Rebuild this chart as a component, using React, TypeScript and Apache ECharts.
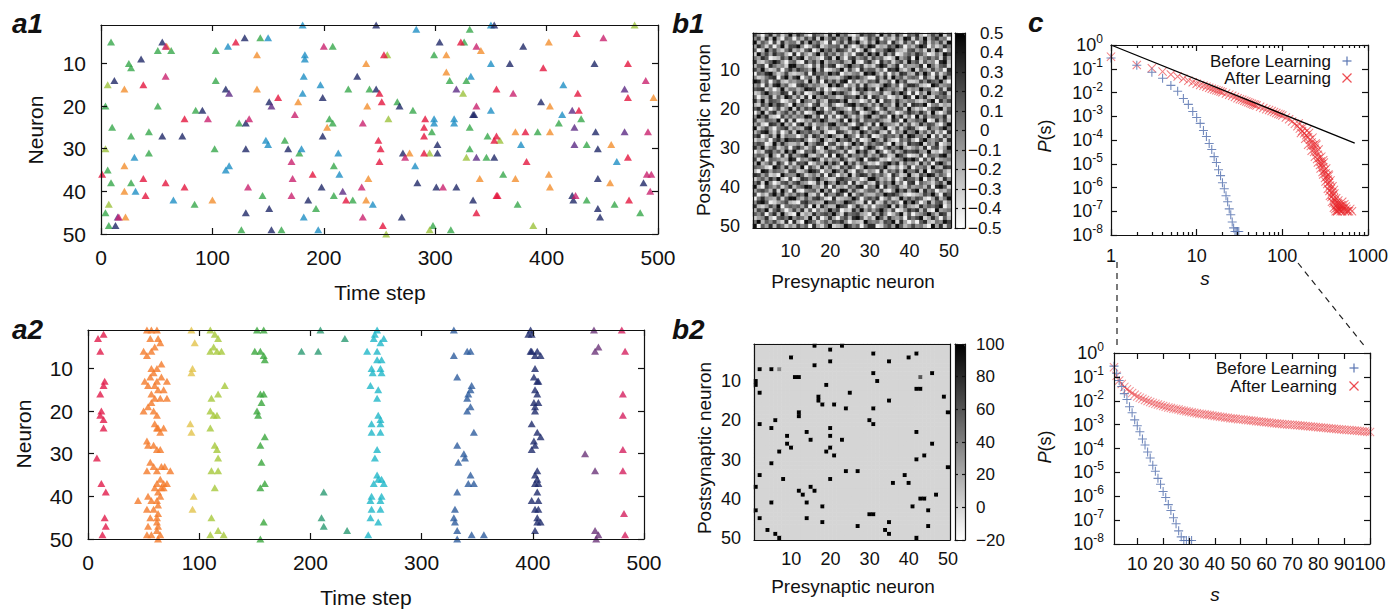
import React, { useEffect, useRef } from 'react';
import * as echarts from 'echarts';

const FONT = '"Liberation Sans", Arial, Helvetica, sans-serif';
const INK = '#111111';

// ---------------- a1: spike raster before learning ([time step, neuron]) ----------------
const a1Red = [[121,5],[38,15],[75,23],[1,36],[38,37],[58,38],[75,39],[40,41],[159,18],[190,36],[220,42],[254,8],[250,17],[252,19],[249,28],[251,30],[250,33],[253,48],[291,23],[290,25],[290,27],[290,31],[323,5],[355,16],[337,45],[353,28],[355,41],[427,3],[397,11],[473,10],[428,17],[473,18],[429,21],[355,27],[381,26],[382,33],[473,32],[356,41],[474,42]];
const a1Magenta = [[58,6],[96,23],[133,23],[58,13],[16,46],[132,39],[200,6],[174,22],[171,33],[172,37],[171,41],[235,24],[234,39],[235,46],[273,32],[307,39],[337,6],[337,20],[451,4],[489,14],[370,17],[491,26],[490,36],[494,36],[493,40],[426,41]];
const a1Purple = [[115,17],[153,20],[217,40],[319,16],[337,32],[15,46],[470,16],[423,21],[425,25],[470,26],[425,29]];
const a1Navy = [[55,5],[129,4],[247,1],[230,13],[304,5],[36,9],[12,14],[112,16],[91,21],[55,27],[73,27],[13,48],[130,24],[130,30],[130,45],[151,19],[151,44],[153,49],[168,30],[186,42],[198,39],[199,18],[199,27],[247,16],[268,20],[270,46],[271,31],[284,38],[302,29],[302,31],[301,39],[319,39],[334,22],[334,42],[353,1],[353,32],[379,6],[367,10],[443,10],[395,19],[335,22],[444,26],[446,30],[446,37],[487,38],[423,41],[424,42],[446,44],[448,46]];
const a1Teal = [[114,6],[150,4],[181,1],[283,2],[350,10],[350,1],[30,32],[31,40],[65,42],[115,34],[112,35],[148,28],[150,29],[180,30],[183,9],[183,8],[182,13],[181,17],[182,46],[195,49],[197,15],[213,31],[214,36],[244,43],[282,34],[299,23],[299,24],[317,23],[317,24],[332,13],[350,21],[415,15],[414,22],[377,29],[463,33]];
const a1Green = [[9,5],[51,7],[63,7],[103,7],[143,4],[208,6],[299,8],[313,14],[326,5],[331,2],[328,14],[25,10],[27,11],[103,14],[4,20],[51,20],[85,21],[10,25],[27,27],[43,26],[43,31],[6,35],[9,38],[27,38],[4,45],[84,43],[7,48],[102,30],[124,24],[126,49],[145,41],[162,49],[165,28],[178,31],[193,44],[205,23],[208,24],[209,34],[209,41],[226,42],[222,16],[241,16],[266,19],[280,21],[297,26],[298,48],[314,49],[331,25],[331,30],[346,32],[347,27],[431,23],[411,24],[392,26],[436,29],[361,36],[374,43],[436,42],[461,43],[484,45]];
const a1YellowGreen = [[6,15],[4,30],[7,43],[325,17],[256,50],[258,23],[295,31],[295,49],[328,32],[479,1],[358,28],[388,48],[257,8]];
const a1Orange = [[59,6],[21,16],[21,34],[21,40],[100,42],[22,46],[140,8],[140,16],[177,19],[203,25],[238,10],[238,42],[239,20],[240,37],[277,31],[310,8],[310,12],[341,7],[340,37],[402,5],[496,18],[403,20],[372,26],[403,26],[458,29],[372,37],[402,36],[457,38],[403,39]];

// ---------------- a2: spike raster after learning ----------------
const a2Red = [[9,3],[14,2],[11,6],[15,13],[14,14],[11,16],[12,20],[11,21],[14,22],[14,24],[8,31],[12,37],[16,39],[15,45],[16,47],[13,49]];
const a2Orange = [[53,1],[62,1],[57,1],[56,3],[63,3],[50,6],[57,6],[60,5],[65,4],[53,7],[66,9],[57,10],[62,10],[59,11],[56,12],[51,13],[62,13],[66,12],[71,13],[54,14],[60,14],[68,15],[63,15],[57,16],[65,17],[60,17],[71,17],[50,20],[54,19],[59,20],[62,21],[57,18],[60,23],[63,24],[68,24],[65,25],[62,24],[53,27],[54,28],[59,28],[62,29],[65,29],[56,32],[59,33],[62,34],[66,33],[53,34],[69,33],[74,34],[65,36],[68,37],[62,37],[71,37],[66,38],[60,38],[63,39],[68,38],[45,41],[54,40],[62,41],[65,40],[57,41],[63,42],[53,43],[59,43],[63,44],[56,45],[62,45],[54,47],[62,46],[63,47],[62,48],[65,49],[53,49],[57,49],[63,50]];
const a2Yellow = [[93,1],[96,4],[94,10],[93,11],[92,23],[93,25],[95,40],[94,43]];
const a2LightGreen = [[110,1],[114,2],[117,3],[110,6],[113,5],[116,6],[120,6],[123,14],[111,17],[117,16],[110,20],[113,21],[116,21],[110,24],[114,28],[116,29],[117,31],[111,34],[117,34],[114,38],[111,45],[110,49],[117,48],[122,49]];
const a2Green = [[152,1],[158,1],[150,6],[155,6],[158,7],[159,8],[155,16],[158,16],[156,18],[152,20],[153,21],[159,26],[155,28],[156,32],[155,38],[159,37],[158,46],[155,50]];
const a2TealGreen = [[209,1],[231,3],[192,6],[207,6],[212,39],[210,45],[212,47],[233,48]];
const a2Cyan = [[260,1],[258,2],[257,3],[263,4],[266,3],[251,6],[260,6],[260,8],[264,8],[255,10],[263,10],[256,11],[264,11],[254,14],[261,15],[260,17],[261,21],[263,22],[255,23],[263,23],[255,25],[263,25],[260,29],[258,31],[260,35],[264,36],[257,37],[261,36],[266,37],[255,40],[264,40],[254,41],[263,41],[255,43],[263,43],[254,45],[261,46],[252,49]];
const a2Blue = [[329,1],[329,7],[341,6],[344,6],[332,12],[345,14],[342,16],[341,17],[344,15],[341,20],[344,19],[347,25],[332,28],[338,30],[339,31],[333,32],[344,35],[342,37],[347,37],[332,39],[330,43],[329,45],[330,46],[332,48],[332,50],[345,49],[356,49]];
const a2Navy = [[398,1],[399,2],[396,2],[399,6],[404,6],[402,7],[407,7],[398,6],[402,10],[401,12],[404,13],[405,13],[402,15],[404,16],[401,18],[402,19],[402,20],[405,18],[399,23],[404,25],[407,26],[401,27],[402,28],[399,29],[404,34],[402,35],[404,36],[405,37],[402,37],[404,39],[399,41],[405,41],[402,43],[405,43],[404,45],[407,46],[404,46],[402,48]];
const a2Purple = [[455,1],[459,5],[456,6],[447,30],[456,34],[456,48],[459,49],[457,50]];
const a2Crimson = [[480,1],[483,6],[481,16],[481,21],[481,29],[481,34],[482,44],[483,49]];

// ---------------- b1: initial weight matrix, each digit is a grey level (see b1Levels) ----------------
const b1Levels = [-0.44, -0.32, -0.22, -0.13, -0.04, 0.04, 0.13, 0.22, 0.32, 0.44];
const b1Rows = [
'7305826149 3862075418 2946103857 6193728406 5820374916',
'4718293065 0527481936 8364915027 4805316298 1739268450',
'9264071835 5183946207 0472859316 2956084173 6048153729',
'3851604927 7940268135 5618302749 8132759604 2697041385',
'6029473158 2416803957 3875160294 0547983216 7351829604',
'1947385620 8063159274 6251407839 5928370146 4863015297',
'5386012749 3791542068 1940683572 7461029358 0925746183',
'8214697305 6108473925 4573291068 3084615729 5716340892',
'2670853419 9452061837 8026954713 1697248053 3480952671',
'7493126058 4865392701 3591730846 6250879314 9164273508',
'0658941372 1237085649 6803245197 9416052873 2839506147',
'4125780693 7904618352 2147968530 0738194625 6507318294',
'9836057214 3561927084 7389051426 5823609471 1274865930',
'3507289461 0786354219 5960427183 2149736058 8621097345',
'6781403925 5249871603 0234718695 7096453182 4395620718',
'1269534870 8370146925 9685302741 3471285960 7052934681',
'5043816297 2618093574 4127659380 8635014297 0948217563',
'8392765014 6095427318 7859143026 1907628435 5213690847',
'2174958630 9453068127 3016894752 6284519370 8769045132',
'6825037149 1837592604 8542071396 4058237619 3130478926',
'0491682573 7260149835 1795368024 9613740258 6485192037',
'4958210736 3549826071 6038415279 2376094815 0927365481',
'7236549081 8014375962 2480937165 5742186093 4659018372',
'3610874925 0792614538 9357206841 8095431726 1384762059',
'9147305682 5328907416 4621589307 3469027158 7201843695',
'2589416037 1965743820 0874152963 6821705394 5936271408',
'6803729154 4037186259 5219640738 0147563829 8452906173',
'1325068497 7684025931 3956827014 9528310647 2069435718',
'5760193842 2419358706 7140395826 4673092518 6791538024',
'8492571360 6851470293 1683724059 7205846931 3528067149',
'0317846295 9206583147 6427019583 1950372486 7843912056',
'4652930718 3579214608 0961845372 5386129740 1270654893',
'7180654239 8043697152 4385126907 8612043597 9607281345',
'3924718506 1768025394 8509372641 2047958163 4183607952',
'6541097382 5390741826 2174850396 6759214038 0546193287',
'2098365417 7125986043 9638207514 3081647295 5829046731',
'8736120954 4961352708 5042916873 7463085129 2175983640',
'1463859207 0287469531 1786534029 9524170386 6390527184',
'5819402673 6843017295 3957081462 1836492507 8064315729',
'9207536148 2569834170 7231648905 4908357216 3452708961',
'3675281940 8104562937 0598273146 6271049583 7918460325',
'7031694825 3759216084 4860915732 2549786310 1237594086',
'0584327169 9426378510 8123496057 5803612947 4761038259',
'4896013572 1078543296 6349752180 8127364095 9503826714',
'8213749056 5637091842 2976038415 0456918273 2184657903',
'2759168403 7381605249 5702184936 3695270148 6827109345',
'6470582931 0913284675 9418567320 7384025916 0346952871',
'1348206759 4652917038 3057289614 1962843507 5791384062',
'5926473180 8209751463 7684032195 4527691830 3068215497',
'9063827514 2746083159 1239746058 8015739624 7452093816',
];

// ---------------- b2: learned weight matrix ([presynaptic, postsynaptic, weight]) ----------------
const b2Base = 0;
const b2Strong = [[16,1,100],[23,1,100],[20,2,100],[31,3,100],[42,3,100],[10,4,100],[40,4,100],[20,5,100],[35,5,100],[16,6,100],[2,7,100],[5,7,100],[7,7,40],[31,8,100],[46,8,100],[11,9,100],[12,9,100],[43,9,60],[1,10,100],[1,11,100],[32,10,100],[19,11,100],[42,12,100],[43,12,100],[2,13,100],[25,13,100],[49,14,100],[17,14,100],[17,15,100],[35,15,100],[18,16,100],[21,16,100],[24,17,100],[31,17,100],[50,18,100],[12,18,100],[12,19,100],[6,20,100],[30,20,100],[31,21,100],[2,21,100],[5,22,100],[20,22,100],[14,23,100],[42,23,100],[9,24,100],[20,24,100],[15,25,100],[23,25,100],[9,26,100],[46,26,100],[10,27,100],[20,27,100],[7,28,100],[19,28,100],[21,29,100],[44,29,100],[42,30,100],[5,31,100],[50,32,100],[24,33,100],[27,33,100],[2,34,100],[39,34,100],[8,35,100],[20,35,100],[40,36,100],[36,36,100],[1,37,100],[15,37,100],[12,38,100],[16,38,100],[13,39,100],[47,39,100],[43,40,100],[44,40,100],[5,41,100],[14,41,100],[18,42,100],[41,42,100],[1,43,100],[45,43,100],[30,44,100],[31,44,100],[2,45,100],[14,45,100],[18,46,100],[35,46,100],[27,47,100],[45,47,100],[4,48,100],[34,48,100],[6,49,100],[35,49,100],[7,50,100],[42,50,100]];

// ---------------- c: avalanche size distributions (log10 P) ----------------
const beforeS = [1,2,3,4,5,6,7,8,9,10,11,12,13,14,15,16,17,18,19,20,21,22,23,24,25,26,27,28,29,30,31];
const beforeLogP = [-0.55,-0.85,-1.15,-1.4,-1.7,-1.95,-2.25,-2.5,-2.8,-3.05,-3.3,-3.6,-3.85,-4.15,-4.4,-4.7,-4.95,-5.25,-5.5,-5.8,-6.05,-6.35,-6.6,-6.9,-7.15,-7.45,-7.7,-7.85,-7.85,-7.85,-7.85];
const afterTop = [[1,-0.49],[2,-0.84],[3,-0.98],[4,-1.12],[5,-1.24],[6,-1.33],[7,-1.42],[8,-1.5],[9,-1.57],[10,-1.63],[11,-1.68],[12,-1.72],[13,-1.76],[14,-1.8],[15,-1.84],[16,-1.87],[17,-1.9],[18,-1.93],[19,-1.96],[20,-1.99],[22,-2.04],[24,-2.09],[26,-2.14],[28,-2.19],[30,-2.24],[32,-2.28],[34,-2.31],[36,-2.35],[38,-2.38],[40,-2.41],[42,-2.44],[44,-2.47],[46,-2.5],[48,-2.52],[50,-2.55],[55,-2.6],[60,-2.65],[65,-2.7],[70,-2.74],[75,-2.78],[80,-2.82],[85,-2.86],[90,-2.9],[95,-2.93],[100,-2.97],[110,-3.05],[120,-3.13],[130,-3.22],[140,-3.32],[150,-3.42],[160,-3.52],[170,-3.62],[180,-3.72],[190,-3.8],[200,-3.88],[210,-3.99],[220,-4.1],[230,-4.22],[240,-4.36],[250,-4.5],[260,-4.62],[270,-4.76],[280,-4.9],[290,-5.02],[300,-5.15],[310,-5.28],[320,-5.4],[330,-5.53],[340,-5.66],[350,-5.8],[360,-5.92],[370,-6.05],[380,-6.2],[390,-6.32],[400,-6.45],[410,-6.55],[420,-6.65],[430,-6.75],[440,-6.85],[450,-6.9],[460,-6.95],[470,-6.9],[480,-7.0],[490,-6.9],[500,-7.0],[520,-6.9],[540,-7.0],[560,-6.9],[580,-7.0],[600,-7.0],[650,-7.0],[200,-4.2],[220,-4.45],[240,-4.7],[260,-4.95],[280,-5.2],[300,-5.45],[320,-5.75],[340,-6.05],[360,-6.35],[380,-6.6],[400,-6.85],[420,-7.0],[440,-7.0],[460,-6.7],[500,-6.75],[550,-6.8],[250,-4.2],[300,-4.85],[350,-5.5],[400,-6.1],[450,-6.55],[500,-6.6],[155,-3.3],[165,-3.7],[175,-3.45],[185,-3.95],[195,-3.6],[205,-3.7],[215,-4.25],[225,-3.9],[235,-4.5],[245,-4.15],[255,-4.8],[265,-4.4],[275,-5.05],[285,-4.7],[295,-5.35],[305,-4.95],[315,-5.6],[325,-5.2],[335,-5.85],[345,-5.45],[355,-6.15],[365,-5.7],[375,-6.4],[385,-5.95],[395,-6.65],[405,-6.25],[415,-6.9],[425,-6.45],[435,-7.0],[445,-6.65],[465,-6.8],[485,-6.75],[510,-6.85],[530,-6.7],[570,-7.0],[620,-6.9]];
const powerLawFit = [[1,1],[700,7.4e-5]];
const afterBottomS = Array.from({ length: 100 }, (_, i) => i + 1);
const afterBottomLogP = [-0.6,-0.95,-1.15,-1.3,-1.42,-1.52,-1.6,-1.68,-1.75,-1.82,-1.87,-1.92,-1.97,-2.01,-2.05,-2.09,-2.13,-2.16,-2.19,-2.22,-2.25,-2.28,-2.3,-2.33,-2.35,-2.37,-2.4,-2.42,-2.44,-2.46,-2.48,-2.5,-2.52,-2.54,-2.55,-2.57,-2.59,-2.6,-2.62,-2.64,-2.65,-2.67,-2.68,-2.7,-2.71,-2.73,-2.74,-2.75,-2.77,-2.78,-2.79,-2.81,-2.82,-2.83,-2.84,-2.86,-2.87,-2.88,-2.89,-2.9,-2.91,-2.93,-2.94,-2.95,-2.96,-2.97,-2.98,-2.99,-3.0,-3.01,-3.02,-3.03,-3.04,-3.05,-3.06,-3.07,-3.08,-3.09,-3.1,-3.11,-3.12,-3.13,-3.14,-3.15,-3.16,-3.17,-3.18,-3.19,-3.2,-3.21,-3.22,-3.23,-3.24,-3.25,-3.26,-3.27,-3.28,-3.29,-3.3,-3.31];

// ---------------- tick labels ----------------
const neuronIds = Array.from({ length: 50 }, (_, i) => String(i + 1));
const neuronTicks = [10, 20, 30, 40, 50];
const cTopXTicks = [1, 10, 100, 1000];
const cTopXMinor = [2,3,4,5,6,7,8,9,20,30,40,50,60,70,80,90,200,300,400,500,600,700,800,900];
const cYTicks = [1e-8, 1e-7, 1e-6, 1e-5, 1e-4, 1e-3, 1e-2, 1e-1, 1];
const cBotXTicks = [10, 20, 30, 40, 50, 60, 70, 80, 90, 100];

const PLUS = 'path://M4.4,0H5.6V4.4H10V5.6H5.6V10H4.4V5.6H0V4.4H4.4Z';
const CROSS = 'path://M0.8,0L5,4.2L9.2,0L10,0.8L5.8,5L10,9.2L9.2,10L5,5.8L0.8,10L0,9.2L4.2,5L0,0.8Z';
const BLUE = '#5a76b2';
const RED = '#e8262c';

function buildOption() {
  const LS = { color: INK, width: 1.2 };
  const xAxes: any[] = [];
  const yAxes: any[] = [];
  const add = (arr: any[], cfg: any) => { arr.push(cfg); return arr.length - 1; };
  const framed = (arr: any[], grid: number, base: any, mainPos: string, mirrorPos: string, label: any, tick: any) => {
    const common = { gridIndex: grid, ...base, splitLine: { show: false }, axisLine: { show: true, onZero: false, lineStyle: LS }, z: 5 };
    const lab = { color: INK, fontFamily: FONT, showMinLabel: true, showMaxLabel: true, hideOverlap: false, ...label };
    const main = add(arr, { ...common, position: mainPos, axisLabel: lab, axisTick: { inside: true, lineStyle: LS, ...tick } });
    add(arr, { ...common, position: mirrorPos, axisLabel: { ...lab, show: false }, axisTick: { inside: true, lineStyle: LS, ...tick } });
    return main;
  };
  const every10 = (i: number) => (i + 1) % 10 === 0;
  const pow10 = (v: number) => `{b|10}{e|${Math.round(Math.log10(v))}}`;
  const richLog = { b: { fontSize: 18, fontFamily: FONT, color: INK, lineHeight: 24 }, e: { fontSize: 12, fontFamily: FONT, color: INK, lineHeight: 12, verticalAlign: 'top' } };

  const grids = [
    { left: 101, top: 25, width: 557, height: 209 },
    { left: 88, top: 330, width: 556, height: 209 },
    { left: 753, top: 33, width: 198, height: 195 },
    { left: 754, top: 344, width: 196, height: 196 },
    { left: 955, top: 33, width: 10, height: 195 },
    { left: 955, top: 344, width: 10, height: 196 },
    { left: 1111, top: 45, width: 257, height: 190 },
    { left: 1114, top: 353, width: 256, height: 191 },
  ];

  const a1x = framed(xAxes, 0, { type: 'value', min: 0, max: 500, interval: 100 }, 'bottom', 'top', { fontSize: 21, margin: 13 }, { length: 6 });
  const a1y = framed(yAxes, 0, { type: 'value', min: 1, max: 50, inverse: true }, 'left', 'right', { fontSize: 21, margin: 15, customValues: neuronTicks }, { length: 6, customValues: neuronTicks });
  const a2x = framed(xAxes, 1, { type: 'value', min: 0, max: 500, interval: 100 }, 'bottom', 'top', { fontSize: 21, margin: 13 }, { length: 6 });
  const a2y = framed(yAxes, 1, { type: 'value', min: 1, max: 50, inverse: true }, 'left', 'right', { fontSize: 21, margin: 15, customValues: neuronTicks }, { length: 6, customValues: neuronTicks });
  const b1x = framed(xAxes, 2, { type: 'category', data: neuronIds }, 'bottom', 'top', { fontSize: 18, margin: 14, interval: every10 }, { length: 4, alignWithLabel: true, interval: every10 });
  const b1y = framed(yAxes, 2, { type: 'category', data: neuronIds, inverse: true }, 'left', 'right', { fontSize: 18, margin: 13, interval: every10 }, { length: 4, alignWithLabel: true, interval: every10 });
  const b2x = framed(xAxes, 3, { type: 'category', data: neuronIds }, 'bottom', 'top', { fontSize: 18, margin: 10, interval: every10 }, { length: 4, alignWithLabel: true, interval: every10 });
  const b2y = framed(yAxes, 3, { type: 'category', data: neuronIds, inverse: true }, 'left', 'right', { fontSize: 18, margin: 13, interval: every10 }, { length: 4, alignWithLabel: true, interval: every10 });
  framed(xAxes, 4, { type: 'value', min: 0, max: 1 }, 'bottom', 'top', { show: false }, { show: false });
  framed(yAxes, 4, { type: 'value', min: -0.5, max: 0.5, interval: 0.1 }, 'right', 'left', {
    fontSize: 17, margin: 3,
    formatter: (v: number) => { const r = Math.round(v * 10) / 10; if (r < 0) return '\u2212' + Math.abs(r).toFixed(1); return '\u2002\u2009' + (r === 0 ? '0' : r.toFixed(1)); },
  }, { length: 3 });
  framed(xAxes, 5, { type: 'value', min: 0, max: 1 }, 'bottom', 'top', { show: false }, { show: false });
  framed(yAxes, 5, { type: 'value', min: -20, max: 100, interval: 20 }, 'right', 'left', {
    fontSize: 17, margin: 11,
    formatter: (v: number) => (v < 0 ? '\u2212' + Math.abs(v) : String(v)),
  }, { length: 3 });
  const ctx = framed(xAxes, 6, { type: 'log', logBase: 10, min: 1, max: 1000 }, 'bottom', 'top', { fontSize: 18, margin: 12, customValues: cTopXTicks, formatter: (v: number) => String(Math.round(v)) }, { length: 6, customValues: cTopXTicks });
  ['bottom', 'top'].forEach((p) => add(xAxes, { gridIndex: 6, type: 'log', logBase: 10, min: 1, max: 1000, position: p, z: 5, splitLine: { show: false }, axisLine: { show: false }, axisLabel: { show: false }, axisTick: { inside: true, length: 3, lineStyle: LS, customValues: cTopXMinor } }));
  const cty = framed(yAxes, 6, { type: 'log', logBase: 10, min: 1e-8, max: 1 }, 'left', 'right', { margin: 8, customValues: cYTicks, formatter: pow10, rich: richLog }, { length: 6, customValues: cYTicks });
  const cbx = framed(xAxes, 7, { type: 'value', min: 1, max: 100 }, 'bottom', 'top', { fontSize: 18.5, margin: 10, customValues: cBotXTicks }, { length: 6, customValues: cBotXTicks });
  const cby = framed(yAxes, 7, { type: 'log', logBase: 10, min: 1e-8, max: 1 }, 'left', 'right', { margin: 10, customValues: cYTicks, formatter: pow10, rich: richLog }, { length: 6, customValues: cYTicks });

  const series: any[] = [];
  const addS = (s: any) => { series.push(s); return series.length - 1; };
  const raster = (data: number[][], color: string, xi: number, yi: number) => addS({
    type: 'scatter', xAxisIndex: xi, yAxisIndex: yi, data, symbol: 'triangle', symbolSize: [8, 7],
    itemStyle: { color }, silent: true, progressive: 0, clip: false,
  });
  [[a1Green, '#37a84b'], [a1YellowGreen, '#9cc23c'], [a1Orange, '#f28e2e'], [a1Teal, '#1e8fc4'], [a1Navy, '#1f2868'], [a1Purple, '#5d2b85'], [a1Magenta, '#c9226e'], [a1Red, '#e3173f']]
    .forEach(([d, c]: any) => raster(d, c, a1x, a1y));
  [[a2Red, '#e11a4a'], [a2Orange, '#f47b2b'], [a2Yellow, '#e2c34b'], [a2LightGreen, '#a6c83b'], [a2Green, '#3aa63c'], [a2TealGreen, '#2a9a72'], [a2Cyan, '#1fb6c8'], [a2Blue, '#2e5d9e'], [a2Navy, '#1e2a6c'], [a2Purple, '#6b3479'], [a2Crimson, '#d4205f']]
    .forEach(([d, c]: any) => raster(d, c, a2x, a2y));

  const b1Data: number[][] = [];
  b1Rows.forEach((row, r) => {
    row.replace(/\s/g, '').split('').forEach((ch, c) => b1Data.push([c, r, b1Levels[Number(ch)]]));
  });
  const strong = new Map<string, number>();
  b2Strong.forEach(([c, r, v]) => strong.set(`${c - 1}_${r - 1}`, v));
  const b2Data: number[][] = [];
  for (let r = 0; r < neuronIds.length; r++) {
    for (let c = 0; c < neuronIds.length; c++) {
      const k = `${c}_${r}`;
      b2Data.push([c, r, strong.has(k) ? (strong.get(k) as number) : b2Base]);
    }
  }
  const b1s = addS({ type: 'heatmap', xAxisIndex: b1x, yAxisIndex: b1y, data: b1Data, silent: true, progressive: 0 });
  const b2s = addS({ type: 'heatmap', xAxisIndex: b2x, yAxisIndex: b2y, data: b2Data, silent: true, progressive: 0 });

  const toP = (s: number[], lg: number[]) => s.map((x, i) => [x, Math.pow(10, lg[i])]);
  const pairsP = (arr: number[][]) => arr.map(([x, lg]) => [x, Math.pow(10, lg)]);
  const mk = (xi: number, yi: number, data: any, sym: string, color: string, opacity: number, name: string) => addS({
    type: 'scatter', name, xAxisIndex: xi, yAxisIndex: yi, data, symbol: sym, symbolSize: 9,
    itemStyle: { color, opacity }, silent: true, progressive: 0, clip: false,
  });
  mk(ctx, cty, pairsP(afterTop), CROSS, RED, 0.6, 'After Learning');
  mk(ctx, cty, toP(beforeS, beforeLogP), PLUS, BLUE, 0.85, 'Before Learning');
  addS({ type: 'line', xAxisIndex: ctx, yAxisIndex: cty, data: powerLawFit, symbol: 'none', lineStyle: { color: '#000', width: 1.3 }, silent: true, z: 4 });
  mk(cbx, cby, toP(afterBottomS, afterBottomLogP), CROSS, RED, 0.5, 'After Learning');
  mk(cbx, cby, toP(beforeS, beforeLogP), PLUS, BLUE, 0.85, 'Before Learning');

  const txt = (x: number, y: number, text: string, font: string, extra: any = {}) => ({
    type: 'text', x, y, silent: true, ...extra,
    style: { text, font, fill: INK, align: 'center', textAlign: 'center', verticalAlign: 'middle', textVerticalAlign: 'middle', ...(extra.style || {}) },
  });
  const lab = (x: number, y: number, t: string) => txt(x, y, t, `bold italic 28px ${FONT}`, { style: { align: 'left', textAlign: 'left' } });
  const vert = (x: number, y: number, t: string, size: number) => txt(x, y, t, `${size}px ${FONT}`, { rotation: Math.PI / 2 });
  const pS = (x: number, y: number) => ({
    type: 'text', x, y, rotation: Math.PI / 2, silent: true,
    style: { text: '{i|P}(s)', font: `18px ${FONT}`, fill: INK, align: 'center', textAlign: 'center', verticalAlign: 'middle', textVerticalAlign: 'middle', rich: { i: { fontStyle: 'italic', fontSize: 18, fontFamily: FONT, fill: INK, color: INK } } },
  });
  const legText = (x: number, y: number, t: string) => txt(x, y, t, `17px ${FONT}`, { style: { align: 'right', textAlign: 'right' } });
  const plus = (x: number, y: number) => [
    { type: 'line', silent: true, shape: { x1: x - 4.5, y1: y, x2: x + 4.5, y2: y }, style: { stroke: BLUE, lineWidth: 1.2 } },
    { type: 'line', silent: true, shape: { x1: x, y1: y - 4.5, x2: x, y2: y + 4.5 }, style: { stroke: BLUE, lineWidth: 1.2 } },
  ];
  const cross = (x: number, y: number) => [
    { type: 'line', silent: true, shape: { x1: x - 4.5, y1: y - 4.5, x2: x + 4.5, y2: y + 4.5 }, style: { stroke: RED, lineWidth: 1.2, opacity: 0.8 } },
    { type: 'line', silent: true, shape: { x1: x + 4.5, y1: y - 4.5, x2: x - 4.5, y2: y + 4.5 }, style: { stroke: RED, lineWidth: 1.2, opacity: 0.8 } },
  ];
  const dash = (x1: number, y1: number, x2: number, y2: number) => ({ type: 'line', silent: true, shape: { x1, y1, x2, y2 }, style: { stroke: '#222', lineWidth: 1.2, lineDash: [6, 5] } });

  const graphic = [
    lab(12, 23, 'a1'), lab(12, 329, 'a2'), lab(672, 23, 'b1'), lab(672, 329, 'b2'), lab(1028, 22, 'c'),
    vert(35, 130, 'Neuron', 21), vert(23, 434, 'Neuron', 21),
    txt(380, 292, 'Time step', `21px ${FONT}`), txt(366, 597, 'Time step', `21px ${FONT}`),
    vert(703, 130, 'Postsynaptic neuron', 19), vert(704, 448, 'Postsynaptic neuron', 19),
    txt(853, 281, 'Presynaptic neuron', `19px ${FONT}`), txt(853, 586, 'Presynaptic neuron', `19px ${FONT}`),
    pS(1045, 136), pS(1045, 447),
    txt(1205, 278, 's', `italic 19px ${FONT}`), txt(1215, 594, 's', `italic 19px ${FONT}`),
    legText(1331, 61, 'Before Learning'), legText(1331, 78, 'After Learning'),
    legText(1337, 368, 'Before Learning'), legText(1337, 386, 'After Learning'),
    ...plus(1347, 61), ...cross(1347, 78), ...plus(1354, 368), ...cross(1354, 386),
    dash(1117, 262, 1117, 348), dash(1298, 263, 1366, 348),
  ];

  return {
    animation: false,
    backgroundColor: '#ffffff',
    textStyle: { fontFamily: FONT },
    grid: grids,
    xAxis: xAxes,
    yAxis: yAxes,
    visualMap: [
      { type: 'continuous', seriesIndex: b1s, min: -0.5, max: 0.5, inRange: { color: ['#ffffff', '#000000'] }, left: 955, top: 33, itemWidth: 10, itemHeight: 195, calculable: false, padding: 0, z: 1, hoverLink: false },
      { type: 'continuous', seriesIndex: b2s, min: -20, max: 100, inRange: { color: ['#ffffff', '#000000'] }, left: 955, top: 344, itemWidth: 10, itemHeight: 196, calculable: false, padding: 0, z: 1, hoverLink: false },
    ],
    series,
    graphic,
  };
}

export default function App() {
  const ref = useRef<HTMLDivElement>(null);
  useEffect(() => {
    if (!ref.current) return;
    const chart = echarts.init(ref.current, undefined, { renderer: 'svg' });
    chart.setOption(buildOption() as any);
    return () => chart.dispose();
  }, []);
  return <div ref={ref} style={{ position: 'fixed', left: 0, top: 0, width: 1397, height: 611, background: '#fff' }} />;
}
